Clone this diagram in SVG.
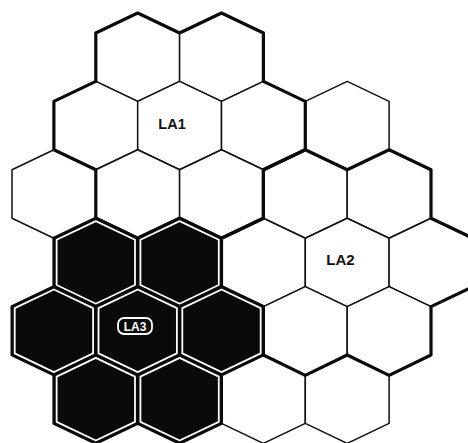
<svg xmlns="http://www.w3.org/2000/svg" xmlns:xlink="http://www.w3.org/1999/xlink" width="468" height="443" viewBox="0 0 468 443">
  <style>
    .cell { fill: #ffffff; stroke: #111; stroke-width: 1.5; stroke-linejoin: round; }
    .dark { fill: #0a0a0a; stroke: #0a0a0a; stroke-width: 3; stroke-linejoin: round; }
    .inner { fill: none; stroke: #ffffff; stroke-width: 1.8; stroke-linejoin: round; }
    .bound { fill: none; stroke: #0a0a0a; stroke-width: 3.2; stroke-linejoin: round; }
    .lab { font-family: "Liberation Sans", Arial, sans-serif; font-weight: bold; fill: #111; text-anchor: middle; }
    .lab3 { font-family: "Liberation Sans", Arial, sans-serif; font-weight: bold; fill: #ffffff; text-anchor: middle; font-size: 12px; }
  </style>
  <defs>
    <polygon id="hex" points="0,-44.2 41.9,-24.2 41.9,24.2 0,44.2 -41.9,24.2 -41.9,-24.2"/>
    <polygon id="hexin" points="0,-41.33 39.18,-22.63 39.18,22.63 0,41.33 -39.18,22.63 -39.18,-22.63"/>
  </defs>
  <rect width="468" height="443" fill="#ffffff"/>

  <!-- LA1 cells -->
  <g id="la1-r0-a"><use xlink:href="#hex" href="#hex" class="cell" x="137.7" y="57.2"/></g>
  <g id="la1-r0-b"><use xlink:href="#hex" href="#hex" class="cell" x="221.5" y="57.2"/></g>
  <g id="la1-r1-a"><use xlink:href="#hex" href="#hex" class="cell" x="95.8" y="125.6"/></g>
  <g id="la1-center"><use xlink:href="#hex" href="#hex" class="cell" x="179.6" y="125.6"/></g>
  <g id="la1-r1-c"><use xlink:href="#hex" href="#hex" class="cell" x="263.4" y="125.6"/></g>
  <g id="la1-r2-a"><use xlink:href="#hex" href="#hex" class="cell" x="137.7" y="194"/></g>
  <g id="la1-r2-b"><use xlink:href="#hex" href="#hex" class="cell" x="221.5" y="194"/></g>

  <!-- other white cells -->
  <g id="cell-r1-right"><use xlink:href="#hex" href="#hex" class="cell" x="347.2" y="125.6"/></g>
  <g id="cell-r2-left"><use xlink:href="#hex" href="#hex" class="cell" x="53.9" y="194"/></g>
  <g id="cell-r5-a"><use xlink:href="#hex" href="#hex" class="cell" x="263.4" y="399.2"/></g>
  <g id="cell-r5-b"><use xlink:href="#hex" href="#hex" class="cell" x="347.2" y="399.2"/></g>

  <!-- LA2 cells -->
  <g id="la2-r2-a"><use xlink:href="#hex" href="#hex" class="cell" x="305.3" y="194"/></g>
  <g id="la2-r2-b"><use xlink:href="#hex" href="#hex" class="cell" x="389.1" y="194"/></g>
  <g id="la2-r3-a"><use xlink:href="#hex" href="#hex" class="cell" x="263.4" y="262.4"/></g>
  <g id="la2-center"><use xlink:href="#hex" href="#hex" class="cell" x="347.2" y="262.4"/></g>
  <g id="la2-r3-c"><use xlink:href="#hex" href="#hex" class="cell" x="431" y="262.4"/></g>
  <g id="la2-r4-a"><use xlink:href="#hex" href="#hex" class="cell" x="305.3" y="330.8"/></g>
  <g id="la2-r4-b"><use xlink:href="#hex" href="#hex" class="cell" x="389.1" y="330.8"/></g>

  <!-- location area boundaries -->
  <g id="connectors">
    <path id="la1-boundary" class="bound" d="M95.8,33 L137.7,13 L179.6,33 L221.5,13 L263.4,33 L263.4,81.4 L305.3,101.4 L305.3,149.8 L263.4,169.8 L263.4,218.2 L221.5,238.2 L179.6,218.2 L137.7,238.2 L95.8,218.2 L95.8,169.8 L53.9,149.8 L53.9,101.4 L95.8,81.4 Z"/>
    <path id="la2-boundary" class="bound" d="M263.4,169.8 L305.3,149.8 L347.2,169.8 L389.1,149.8 L431,169.8 L431,218.2 L472.9,238.2 L472.9,286.6 L431,306.6 L431,355 L389.1,375.4 L347.2,355 L305.3,375.4 L263.4,355 L263.4,306.6 L221.5,286.6 L221.5,238.2 L263.4,218.2 Z"/>
  </g>

  <!-- LA3 cells (dark) -->
  <g id="la3-r3-a"><use xlink:href="#hex" href="#hex" class="dark" x="95.8" y="262.4"/><use xlink:href="#hexin" href="#hexin" class="inner" x="95.8" y="262.4"/></g>
  <g id="la3-r3-b"><use xlink:href="#hex" href="#hex" class="dark" x="179.6" y="262.4"/><use xlink:href="#hexin" href="#hexin" class="inner" x="179.6" y="262.4"/></g>
  <g id="la3-r4-a"><use xlink:href="#hex" href="#hex" class="dark" x="53.9" y="330.8"/><use xlink:href="#hexin" href="#hexin" class="inner" x="53.9" y="330.8"/></g>
  <g id="la3-center"><use xlink:href="#hex" href="#hex" class="dark" x="137.7" y="330.8"/><use xlink:href="#hexin" href="#hexin" class="inner" x="137.7" y="330.8"/></g>
  <g id="la3-r4-c"><use xlink:href="#hex" href="#hex" class="dark" x="221.5" y="330.8"/><use xlink:href="#hexin" href="#hexin" class="inner" x="221.5" y="330.8"/></g>
  <g id="la3-r5-a"><use xlink:href="#hex" href="#hex" class="dark" x="95.8" y="399.2"/><use xlink:href="#hexin" href="#hexin" class="inner" x="95.8" y="399.2"/></g>
  <g id="la3-r5-b"><use xlink:href="#hex" href="#hex" class="dark" x="179.6" y="399.2"/><use xlink:href="#hexin" href="#hexin" class="inner" x="179.6" y="399.2"/></g>

  <!-- labels -->
  <g id="label-la1"><text class="lab" x="172" y="128.5" font-size="14.5">LA1</text></g>
  <g id="label-la2"><text class="lab" x="340.5" y="265" font-size="15">LA2</text></g>
  <g id="label-la3">
    <rect x="118" y="318" width="34" height="16" rx="6" fill="none" stroke="#ffffff" stroke-width="1.8"/>
    <text class="lab3" x="135" y="330.5">LA3</text>
  </g>
</svg>
